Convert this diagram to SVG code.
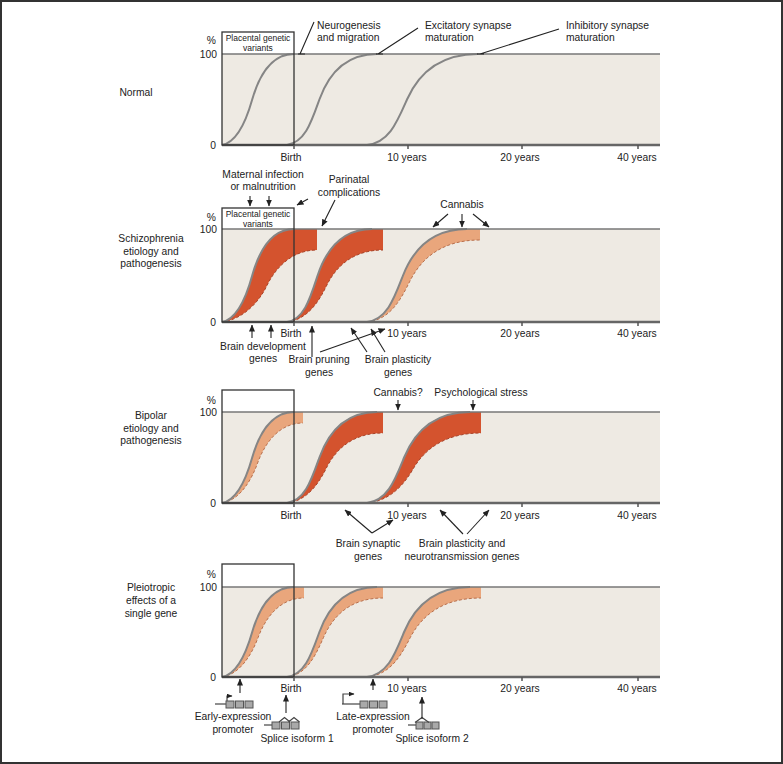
<svg xmlns="http://www.w3.org/2000/svg" width="783" height="764" viewBox="0 0 783 764">
<defs>
<marker id="ah" markerUnits="userSpaceOnUse" markerWidth="7" markerHeight="6" refX="6.5" refY="3" orient="auto"><path d="M0,0 L7,3 L0,6 z" fill="#222"/></marker>
<marker id="ahs" markerUnits="userSpaceOnUse" markerWidth="6" markerHeight="5" refX="5.5" refY="2.5" orient="auto"><path d="M0,0 L6,2.5 L0,5 z" fill="#222"/></marker>
</defs>
<style>
text{font-family:"Liberation Sans",Arial,sans-serif;font-size:10.3px;fill:#222}
.c{text-anchor:middle}
.e{text-anchor:end}
.sm{font-size:8.5px}
.bg{fill:#eeeae3}
.top{stroke:#777;stroke-width:1.5;fill:none}
.base{stroke:#666;stroke-width:2.5;fill:none}
.box{stroke:#333;stroke-width:1.3;fill:none}
.tick{stroke:#555;stroke-width:1.5}
.curve{stroke:#858585;stroke-width:2;fill:none}
.dark{fill:#d4532e}
.light{fill:#e9a67c}
.dl{stroke:#a8442a;stroke-width:1;stroke-dasharray:3 2;fill:none}
.ll{stroke:#b86f4c;stroke-width:1;stroke-dasharray:3 2;fill:none}
.ar{stroke:#222;stroke-width:1.1;fill:none;marker-end:url(#ah)}
.ld{stroke:#222;stroke-width:1.1;fill:none}
.ex{fill:#a9a9a9;stroke:#555;stroke-width:1}
.gl{stroke:#444;stroke-width:1.2;fill:none}
</style>
<rect x="1" y="1" width="781" height="762" fill="#fff" stroke="#333" stroke-width="2"/>

<!-- Panel 1: Normal -->
<g id="panel-normal">
<rect class="bg" x="222" y="54" width="438" height="91"/>
<path class="curve" d="M222,145 C236.4,142.3 245.8,122.3 252.2,99.5 C259.4,74.5 272.4,54 294,54"/>
<path class="curve" d="M287,145 C305,142.3 311.3,122.3 319.4,99.5 C328.4,74.5 344.6,54 377,54"/>
<path class="curve" d="M367,145 C389.2,142.3 397,122.3 407,99.5 C418.1,74.5 438,54 478,54"/>
<line class="top" x1="222" y1="54" x2="660" y2="54"/>
<line class="base" x1="222" y1="145" x2="660" y2="145"/>
<rect class="box" x="222" y="32" width="72" height="113"/>
<line class="tick" x1="294" y1="145" x2="294" y2="149"/>
<line class="tick" x1="408" y1="145" x2="408" y2="149"/>
<line class="tick" x1="522" y1="145" x2="522" y2="149"/>
<line class="tick" x1="638" y1="145" x2="638" y2="149"/>
<text x="136" y="96" class="c">Normal</text>
<text x="216" y="44" class="e">%</text>
<text x="217" y="58" class="e">100</text>
<text x="216" y="149" class="e">0</text>
<text x="258" y="40.5" class="c sm">Placental genetic</text>
<text x="258" y="51" class="c sm">variants</text>
<text x="317" y="29">Neurogenesis</text>
<text x="317" y="41">and migration</text>
<text x="425" y="29">Excitatory synapse</text>
<text x="425" y="41">maturation</text>
<text x="566" y="29">Inhibitory synapse</text>
<text x="566" y="41">maturation</text>
<text x="291" y="161" class="c">Birth</text>
<text x="407" y="161" class="c">10 years</text>
<text x="520" y="161" class="c">20 years</text>
<text x="637" y="161" class="c">40 years</text>
</g>

<!-- Panel 2: Schizophrenia -->
<g id="panel-schizophrenia">
<rect class="bg" x="222" y="229" width="438" height="93"/>
<path class="dark" d="M222,322 C236.4,319.2 245.8,298.8 252.2,275.5 C259.4,249.9 272.4,229 294,229 L317,229 L317,250 C293.3,250 276.2,266.2 266.7,286 C258.1,304 241,319.8 222,322 Z"/>
<path class="dl" d="M222,322 C241,319.8 258.1,304 266.7,286 C276.2,266.2 293.3,250 317,250"/>
<path class="dark" d="M287,322 C304,319.2 310,298.8 317.6,275.5 C326.1,249.9 341.4,229 372,229 L383,229 L383,250 C353.2,250 336,266.2 326.4,286 C317.7,304 306.2,319.8 287,322 Z"/>
<path class="dl" d="M287,322 C306.2,319.8 317.7,304 326.4,286 C336,266.2 353.2,250 383,250"/>
<path class="light" d="M367,322 C387,319.2 394,298.8 403,275.5 C413,249.9 431,229 467,229 L480,229 L480,240 C441.6,240 421.2,258.6 409.9,281.1 C399.8,301.6 389.6,319.6 367,322 Z"/>
<path class="ll" d="M367,322 C389.6,319.6 399.8,301.6 409.9,281.1 C421.2,258.6 441.6,240 480,240"/>
<path class="curve" d="M222,322 C236.4,319.2 245.8,298.8 252.2,275.5 C259.4,249.9 272.4,229 294,229"/>
<path class="curve" d="M287,322 C304,319.2 310,298.8 317.6,275.5 C326.1,249.9 341.4,229 372,229"/>
<path class="curve" d="M367,322 C387,319.2 394,298.8 403,275.5 C413,249.9 431,229 467,229"/>
<line class="top" x1="222" y1="229" x2="660" y2="229"/>
<line class="base" x1="222" y1="322" x2="660" y2="322"/>
<rect class="box" x="222" y="208" width="72" height="114"/>
<line class="tick" x1="294" y1="322" x2="294" y2="326"/>
<line class="tick" x1="408" y1="322" x2="408" y2="326"/>
<line class="tick" x1="522" y1="322" x2="522" y2="326"/>
<line class="tick" x1="638" y1="322" x2="638" y2="326"/>
<text x="151" y="242" class="c">Schizophrenia</text>
<text x="151" y="254.5" class="c">etiology and</text>
<text x="151" y="267" class="c">pathogenesis</text>
<text x="216" y="221" class="e">%</text>
<text x="217" y="233" class="e">100</text>
<text x="216" y="326" class="e">0</text>
<text x="258" y="216.5" class="c sm">Placental genetic</text>
<text x="258" y="226.5" class="c sm">variants</text>
<text x="263" y="178" class="c">Maternal infection</text>
<text x="263" y="190" class="c">or malnutrition</text>
<text x="349" y="183" class="c">Parinatal</text>
<text x="349" y="196" class="c">complications</text>
<text x="462" y="208" class="c">Cannabis</text>
<text x="291" y="337" class="c">Birth</text>
<text x="407" y="337" class="c">10 years</text>
<text x="520" y="337" class="c">20 years</text>
<text x="637" y="337" class="c">40 years</text>
<text x="263" y="349.5" class="c">Brain development</text>
<text x="263" y="362" class="c">genes</text>
<text x="319" y="363" class="c">Brain pruning</text>
<text x="319" y="376" class="c">genes</text>
<text x="398" y="363" class="c">Brain plasticity</text>
<text x="398" y="376" class="c">genes</text>
</g>

<!-- Panel 3: Bipolar -->
<g id="panel-bipolar">
<rect class="bg" x="222" y="412" width="438" height="91"/>
<path class="light" d="M222,503 C236.4,500.3 245.8,480.3 252.2,457.5 C259.4,432.5 272.4,412 294,412 L303,412 L303,423 C280.3,423 265.7,441 257.6,463 C250.4,483 238.2,500.6 222,503 Z"/>
<path class="ll" d="M222,503 C238.2,500.6 250.4,483 257.6,463 C265.7,441 280.3,423 303,423"/>
<path class="dark" d="M287,503 C305,500.3 311.3,480.3 319.4,457.5 C328.4,432.5 344.6,412 377,412 L383,412 L383,433 C353.2,433 336,448.8 326.4,468 C317.7,485.5 306.2,500.9 287,503 Z"/>
<path class="dl" d="M287,503 C306.2,500.9 317.7,485.5 326.4,468 C336,448.8 353.2,433 383,433"/>
<path class="dark" d="M367,503 C387.6,500.3 394.8,480.3 404.1,457.5 C414.4,432.5 432.9,412 470,412 L481,412 L481,433 C445.7,433 425.1,448.8 413.7,468 C403.5,485.5 389.8,500.9 367,503 Z"/>
<path class="dl" d="M367,503 C389.8,500.9 403.5,485.5 413.7,468 C425.1,448.8 445.7,433 481,433"/>
<path class="curve" d="M222,503 C236.4,500.3 245.8,480.3 252.2,457.5 C259.4,432.5 272.4,412 294,412"/>
<path class="curve" d="M287,503 C305,500.3 311.3,480.3 319.4,457.5 C328.4,432.5 344.6,412 377,412"/>
<path class="curve" d="M367,503 C387.6,500.3 394.8,480.3 404.1,457.5 C414.4,432.5 432.9,412 470,412"/>
<line class="top" x1="222" y1="412" x2="660" y2="412"/>
<line class="base" x1="222" y1="503" x2="660" y2="503"/>
<rect class="box" x="222" y="390" width="72" height="113"/>
<line class="tick" x1="294" y1="503" x2="294" y2="507"/>
<line class="tick" x1="408" y1="503" x2="408" y2="507"/>
<line class="tick" x1="522" y1="503" x2="522" y2="507"/>
<line class="tick" x1="638" y1="503" x2="638" y2="507"/>
<text x="151" y="419" class="c">Bipolar</text>
<text x="151" y="431.5" class="c">etiology and</text>
<text x="151" y="444" class="c">pathogenesis</text>
<text x="216" y="404" class="e">%</text>
<text x="217" y="416" class="e">100</text>
<text x="216" y="507" class="e">0</text>
<text x="398" y="396" class="c">Cannabis?</text>
<text x="481" y="396" class="c">Psychological stress</text>
<text x="291" y="519" class="c">Birth</text>
<text x="407" y="519" class="c">10 years</text>
<text x="520" y="519" class="c">20 years</text>
<text x="637" y="519" class="c">40 years</text>
<text x="368" y="547" class="c">Brain synaptic</text>
<text x="368" y="559.5" class="c">genes</text>
<text x="462" y="547" class="c">Brain plasticity and</text>
<text x="462" y="559.5" class="c">neurotransmission genes</text>
</g>

<!-- Panel 4: Pleiotropic -->
<g id="panel-pleiotropic">
<rect class="bg" x="222" y="587" width="438" height="90"/>
<path class="light" d="M222,677 C236.4,674.3 245.8,654.5 252.2,632 C259.4,607.3 272.4,587 294,587 L304,587 L304,598 C281,598 266.3,615.8 258.1,637.5 C250.7,657.3 238.4,674.6 222,677 Z"/>
<path class="ll" d="M222,677 C238.4,674.6 250.7,657.3 258.1,637.5 C266.3,615.8 281,598 304,598"/>
<path class="light" d="M287,677 C305,674.3 311.3,654.5 319.4,632 C328.4,607.3 344.6,587 377,587 L383,587 L383,598 C350.4,598 333.1,615.8 323.5,637.5 C314.8,657.3 306.2,674.6 287,677 Z"/>
<path class="ll" d="M287,677 C306.2,674.6 314.8,657.3 323.5,637.5 C333.1,615.8 350.4,598 383,598"/>
<path class="light" d="M367,677 C387.6,674.3 394.8,654.5 404.1,632 C414.4,607.3 432.9,587 470,587 L481,587 L481,598 C442.2,598 421.7,615.8 410.3,637.5 C400.1,657.3 389.8,674.6 367,677 Z"/>
<path class="ll" d="M367,677 C389.8,674.6 400.1,657.3 410.3,637.5 C421.7,615.8 442.2,598 481,598"/>
<path class="curve" d="M222,677 C236.4,674.3 245.8,654.5 252.2,632 C259.4,607.3 272.4,587 294,587"/>
<path class="curve" d="M287,677 C305,674.3 311.3,654.5 319.4,632 C328.4,607.3 344.6,587 377,587"/>
<path class="curve" d="M367,677 C387.6,674.3 394.8,654.5 404.1,632 C414.4,607.3 432.9,587 470,587"/>
<line class="top" x1="222" y1="587" x2="660" y2="587"/>
<line class="base" x1="222" y1="677" x2="660" y2="677"/>
<rect class="box" x="222" y="564" width="72" height="113"/>
<line class="tick" x1="294" y1="677" x2="294" y2="681"/>
<line class="tick" x1="408" y1="677" x2="408" y2="681"/>
<line class="tick" x1="522" y1="677" x2="522" y2="681"/>
<line class="tick" x1="638" y1="677" x2="638" y2="681"/>
<text x="151" y="591" class="c">Pleiotropic</text>
<text x="151" y="604" class="c">effects of a</text>
<text x="151" y="617" class="c">single gene</text>
<text x="216" y="578" class="e">%</text>
<text x="217" y="591" class="e">100</text>
<text x="216" y="681" class="e">0</text>
<text x="291" y="692" class="c">Birth</text>
<text x="407" y="692" class="c">10 years</text>
<text x="520" y="692" class="c">20 years</text>
<text x="637" y="692" class="c">40 years</text>
</g>

<!-- Gene diagrams -->
<g id="gene-early">
<path class="gl" d="M215,704 H226"/>
<path class="gl" d="M227,704 V696 H232" marker-end="url(#ahs)"/>
<rect class="ex" x="226" y="701" width="8" height="7"/>
<rect class="ex" x="235.5" y="701" width="8" height="7"/>
<rect class="ex" x="245" y="701" width="8" height="7"/>
<text x="233" y="719.5" class="c">Early-expression</text>
<text x="233" y="732.5" class="c">promoter</text>
</g>
<g id="gene-isoform1">
<path class="gl" d="M264,725 H272"/>
<rect class="ex" x="272" y="722" width="8" height="7"/>
<rect class="ex" x="281.5" y="722" width="8" height="7"/>
<rect class="ex" x="291" y="722" width="8" height="7"/>
<path class="gl" d="M279,722 L284.5,717.5 L290,722 M288.5,722 L294,717.5 L299.5,722"/>
<text x="297" y="742" class="c">Splice isoform 1</text>
</g>
<g id="gene-late">
<path class="gl" d="M342,704 H360"/>
<path class="gl" d="M343,704 V694 H354" marker-end="url(#ahs)"/>
<rect class="ex" x="360" y="701" width="8" height="7"/>
<rect class="ex" x="369.5" y="701" width="8" height="7"/>
<rect class="ex" x="379" y="701" width="8" height="7"/>
<text x="373" y="719.5" class="c">Late-expression</text>
<text x="373" y="732.5" class="c">promoter</text>
</g>
<g id="gene-isoform2">
<path class="gl" d="M408,725 H416"/>
<rect class="ex" x="416" y="722" width="7" height="7"/>
<rect class="ex" x="424" y="722" width="7" height="7"/>
<rect class="ex" x="432" y="722" width="7" height="7"/>
<path class="gl" d="M415,722.5 L422,717.5 L429,722.5"/>
<text x="432" y="742" class="c">Splice isoform 2</text>
</g>

<!-- Connectors -->
<g id="connectors">
<path class="ld" d="M314,22 L300,54 M298,54 H305"/>
<path class="ld" d="M418,28 L378,54 M376,54 H383"/>
<path class="ld" d="M559,29 L480,54 M477,54 H484"/>
<path class="ar" d="M250,196 V206"/>
<path class="ar" d="M269,196 V206"/>
<path class="ar" d="M308,199 L297,205"/>
<path class="ar" d="M335,200 L322,226"/>
<path class="ar" d="M448,214 L433,227"/>
<path class="ar" d="M462,214 V227"/>
<path class="ar" d="M473,214 L489,227"/>
<path class="ar" d="M252,338 V325"/>
<path class="ar" d="M271,338 V325"/>
<path class="ar" d="M312,357 V326"/>
<path class="ar" d="M320,352 L385,329"/>
<path class="ar" d="M367,352 L351,328"/>
<path class="ar" d="M385,352 L371,329"/>
<path class="ar" d="M398,400 V410"/>
<path class="ar" d="M473,400 V410"/>
<path class="ar" d="M372,533 L345,510"/>
<path class="ar" d="M372,533 L393,520"/>
<path class="ar" d="M463,534 L440,510"/>
<path class="ar" d="M467,534 L489,510"/>
<path class="ar" d="M240,693 V679"/>
<path class="ar" d="M373,690 V679"/>
<path class="ar" d="M286,713 V695"/>
<path class="ar" d="M422,719 V697"/>
</g>
</svg>
